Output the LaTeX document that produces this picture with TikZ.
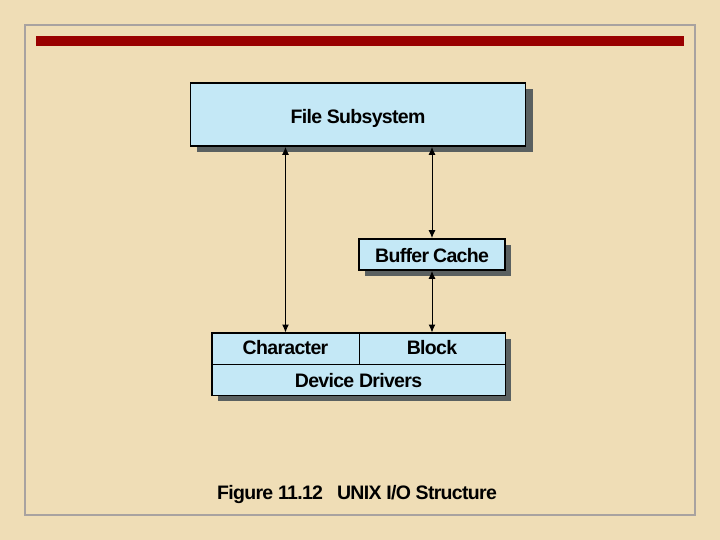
\documentclass[tikz,border=0pt]{standalone}
\usepackage{fontspec}
\setmainfont{Liberation Sans}
\newfontfamily\diagfont{Liberation Sans}[LetterSpace=-3.5]
\usetikzlibrary{arrows.meta}
\definecolor{parch}{HTML}{EFDDB6}
\definecolor{boxblue}{HTML}{C4E8F6}
\definecolor{shadowgray}{HTML}{5A6060}
\definecolor{framegray}{HTML}{A8A2A0}
\definecolor{barred}{HTML}{990000}
\tikzset{
  lbl/.style={font=\diagfont\bfseries\fontsize{19.5}{21}\selectfont},
  box/.style={draw=black, line width=1.8pt, fill=boxblue, inner sep=0pt, lbl, text depth=0pt},
  cell/.style={draw=black, line width=1pt, fill=boxblue, inner sep=0pt, lbl, text depth=0pt},
  arr/.style={line width=1pt, {Latex[length=8pt,width=7pt]}-{Latex[length=8pt,width=7pt]}},
}
\begin{document}
\begin{tikzpicture}[x=1pt,y=-1pt]
\useasboundingbox (0,0) rectangle (720,540);
\fill[parch] (0,0) rectangle (720,540);
\draw[framegray, line width=1.6pt] (25,25) rectangle (695,515);
\fill[barred] (36,36) rectangle (684,46);
% shadows
\fill[shadowgray] (197,89) rectangle (533,152);
\fill[shadowgray] (365,245) rectangle (511,276);
\fill[shadowgray] (218,339) rectangle (511,401);
% nodes
\node[box, minimum width=335pt, minimum height=63pt, text height=19pt] (fs) at (358,114.5) {File Subsystem};
\node[box, minimum width=146pt, minimum height=31pt, text height=16pt] (bc) at (432,254.5) {Buffer\hspace{4pt}Cache};
\node[cell, minimum width=147pt, minimum height=31pt, text height=12pt] (char) at (285.5,348.5) {Character};
\node[cell, minimum width=146pt, minimum height=31pt, text height=12pt] (block) at (432,348.5) {Block};
\node[cell, minimum width=293pt, minimum height=31pt, text height=15pt] (dev) at (358.5,379.5) {Device Drivers};
\draw[black, line width=1.8pt] (char.north west) rectangle (dev.south east);
% arrows
\draw[arr] (char.north) -- (char.north |- fs.south);
\draw[arr] (bc.north) -- (bc.north |- fs.south);
\draw[arr] (block.north) -- (bc.south);
% caption
\node[lbl, inner sep=0pt] (cap) at (357,494) {Figure 11.12\hspace{14pt}UNIX I/O Structure};
\end{tikzpicture}
\end{document}
